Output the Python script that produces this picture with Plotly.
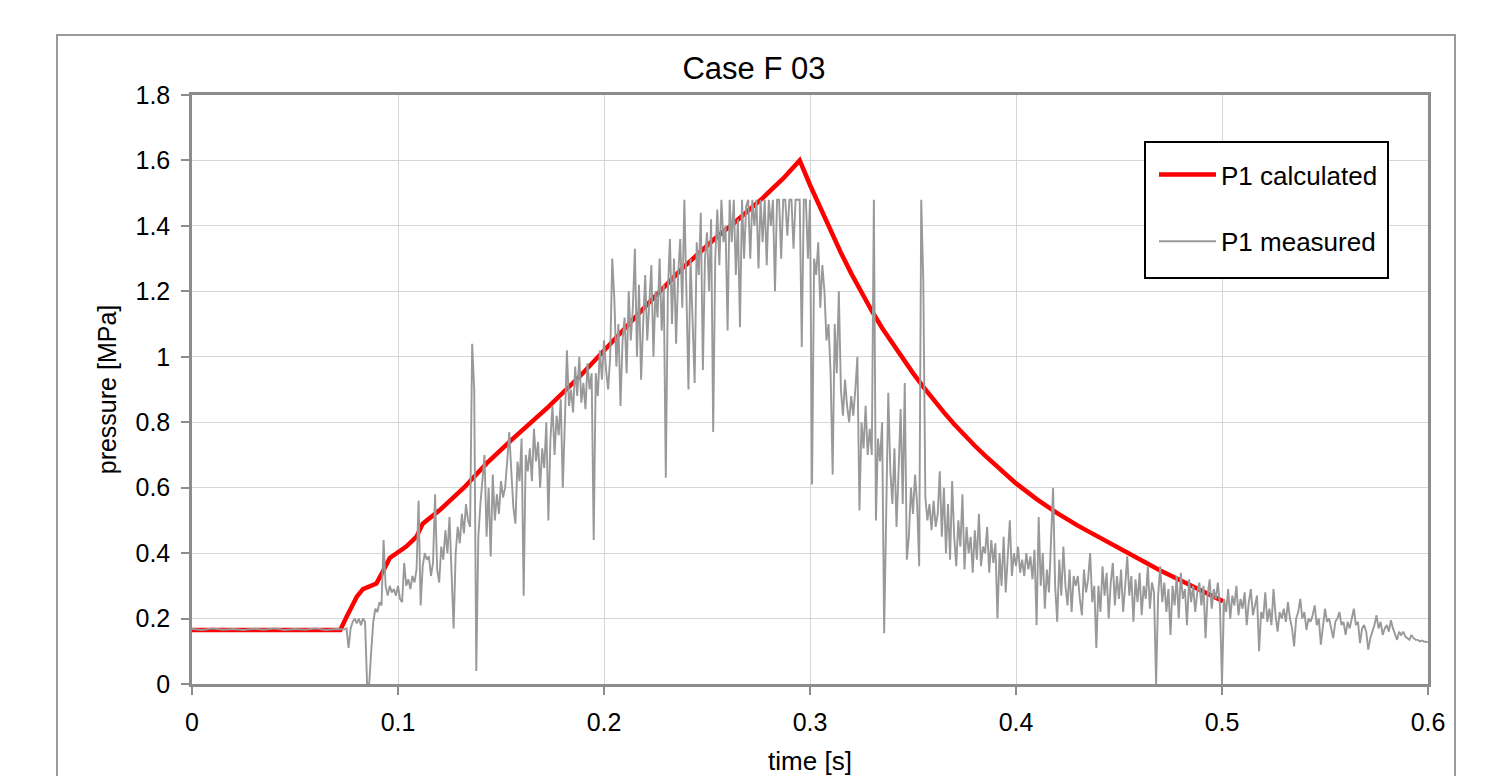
import plotly.graph_objects as go

# ---------------- data ----------------
title_text = "Case F 03"
x_title = "time [s]"
y_title = "pressure [MPa]"
name_calc = "P1 calculated"
name_meas = "P1 measured"

# P1 calculated (time [s], pressure [MPa])
calc_t = [0.000, 0.072, 0.075, 0.080, 0.083, 0.0895, 0.093, 0.096, 0.104, 0.109,
          0.112, 0.120, 0.132, 0.143, 0.155, 0.173, 0.189, 0.205, 0.221, 0.238,
          0.254, 0.263, 0.277, 0.287, 0.295,
          0.300, 0.305, 0.310, 0.315, 0.320, 0.325, 0.330, 0.335, 0.340, 0.345,
          0.350, 0.355, 0.360, 0.365, 0.370, 0.375, 0.380, 0.385, 0.390, 0.395,
          0.400, 0.410, 0.420, 0.430, 0.440, 0.450, 0.460, 0.470, 0.480, 0.490,
          0.5005]
calc_p = [0.165, 0.165, 0.205, 0.267, 0.290, 0.307, 0.348, 0.385, 0.420, 0.450,
          0.490, 0.530, 0.600, 0.674, 0.745, 0.847, 0.945, 1.055, 1.160, 1.270,
          1.362, 1.408, 1.485, 1.545, 1.600,
          1.525, 1.455, 1.385, 1.318, 1.255, 1.195, 1.140, 1.088, 1.040, 0.994,
          0.950, 0.908, 0.868, 0.830, 0.794, 0.760, 0.728, 0.698, 0.669, 0.642,
          0.613, 0.565, 0.522, 0.484, 0.449, 0.415, 0.380, 0.347, 0.316, 0.285,
          0.253]

# P1 measured: quiet part before the pressure rise
meas_flat_t = [0.000, 0.005, 0.010, 0.015, 0.020, 0.025, 0.030, 0.035,
               0.040, 0.045, 0.050, 0.055, 0.060, 0.065, 0.070, 0.074]
meas_flat_p = [0.168, 0.165, 0.170, 0.166, 0.168, 0.165, 0.169, 0.166,
               0.170, 0.165, 0.168, 0.166, 0.170, 0.165, 0.168, 0.167]

# P1 measured: sampled every 1 ms from 0.075 s to 0.600 s
meas_start = 0.075
meas_step = 0.001
meas_p = [
    0.17, 0.11, 0.17, 0.19, 0.20,
    0.185, 0.20, 0.18, 0.20, 0.19, 0.0, 0.0, 0.10, 0.19, 0.23,
    0.22, 0.25, 0.24, 0.44, 0.30, 0.27, 0.30, 0.28, 0.29, 0.27,
    0.30, 0.26, 0.25, 0.37, 0.30, 0.32, 0.29, 0.33, 0.31, 0.35,
    0.56, 0.24, 0.36, 0.40, 0.38, 0.39, 0.33, 0.37, 0.58, 0.35,
    0.31, 0.42, 0.38, 0.47, 0.40, 0.51, 0.36, 0.17, 0.40, 0.48,
    0.43, 0.52, 0.46, 0.55, 0.50, 0.48, 1.04, 0.90, 0.04, 0.45,
    0.55, 0.62, 0.70, 0.45, 0.60, 0.39, 0.64, 0.50, 0.58, 0.52,
    0.62, 0.57, 0.60, 0.68, 0.77, 0.65, 0.54, 0.49, 0.68, 0.62,
    0.75, 0.27, 0.70, 0.65, 0.72, 0.62, 0.78, 0.68, 0.74, 0.60,
    0.72, 0.66, 0.80, 0.50, 0.75, 0.85, 0.70, 0.82, 0.76, 0.87,
    0.60, 0.80, 1.02, 0.85, 0.90, 0.83, 0.97, 0.88, 1.00, 0.86,
    0.92, 0.84, 0.98, 0.90, 0.95, 0.44, 0.95, 0.88, 1.02, 0.93,
    1.05, 0.96, 0.90, 1.00, 1.30, 1.18, 0.97, 1.10, 0.85, 1.05,
    1.12, 0.95, 1.20, 1.05, 1.15, 1.33, 1.00, 1.22, 0.93, 1.10,
    1.25, 1.05, 1.18, 1.28, 1.00, 1.20, 1.12, 1.30, 1.08, 1.22,
    0.63, 1.20, 1.36, 1.10, 1.30, 1.04, 1.25, 1.36, 1.15, 1.48,
    1.20, 0.90, 1.30, 1.10, 0.92, 1.35, 1.25, 1.44, 0.96, 1.30,
    1.38, 1.20, 1.42, 0.77, 1.30, 1.45, 1.28, 1.48, 1.35, 1.40,
    1.08, 1.48, 1.35, 1.48, 1.25, 1.42, 1.09, 1.48, 1.30, 1.46,
    1.48, 1.30, 1.48, 1.40, 1.48, 1.27, 1.48, 1.35, 1.48, 1.28,
    1.48, 1.40, 1.48, 1.20, 1.48, 1.48, 1.30, 1.48, 1.48, 1.37,
    1.48, 1.48, 1.33, 1.48, 1.48, 1.48, 1.03, 1.48, 1.48, 1.30,
    1.48, 0.61, 1.30, 1.25, 1.35, 1.15, 1.28, 1.20, 1.05, 1.10,
    0.95, 0.64, 1.10, 0.95, 1.20, 0.90, 0.82, 0.93, 0.85, 0.80,
    0.88, 0.82, 0.90, 1.00, 0.53, 0.80, 0.72, 0.85, 0.70, 0.78,
    0.70, 1.48, 0.50, 0.75, 0.68, 0.80, 0.155, 0.60, 0.89, 0.65,
    0.55, 0.72, 0.48, 0.65, 0.84, 0.55, 0.92, 0.38, 0.45, 0.60,
    0.52, 0.64, 0.55, 0.36, 1.48, 1.23, 0.57, 0.50, 0.55, 0.47,
    0.56, 0.48, 0.52, 0.65, 0.45, 0.60, 0.40, 0.55, 0.38, 0.62,
    0.45, 0.36, 0.50, 0.42, 0.58, 0.35, 0.48, 0.40, 0.45, 0.34,
    0.47, 0.38, 0.52, 0.36, 0.42, 0.40, 0.48, 0.34, 0.44, 0.37,
    0.43, 0.20, 0.40, 0.30, 0.45, 0.28, 0.38, 0.50, 0.33, 0.40,
    0.36, 0.42, 0.34, 0.38, 0.33, 0.40, 0.35, 0.39, 0.32, 0.41,
    0.18, 0.51, 0.30, 0.40, 0.23, 0.35, 0.28, 0.42, 0.60, 0.30,
    0.19, 0.38, 0.27, 0.42, 0.30, 0.24, 0.35, 0.22, 0.33, 0.30,
    0.33, 0.26, 0.21, 0.35, 0.28, 0.32, 0.40, 0.25, 0.30, 0.11,
    0.30, 0.22, 0.36, 0.27, 0.34, 0.20, 0.31, 0.37, 0.24, 0.33,
    0.26, 0.35, 0.22, 0.30, 0.39, 0.27, 0.33, 0.19, 0.32, 0.25,
    0.34, 0.21, 0.30, 0.26, 0.36, 0.23, 0.31, 0.28, 0.00, 0.27,
    0.36, 0.25, 0.31, 0.22, 0.29, 0.15, 0.30, 0.24, 0.33, 0.20,
    0.34, 0.26, 0.29, 0.18, 0.32, 0.25, 0.30, 0.22, 0.28, 0.31,
    0.24, 0.30, 0.14, 0.27, 0.32, 0.23, 0.29, 0.26, 0.31, 0.24,
    0.00, 0.26, 0.22, 0.29, 0.20, 0.27, 0.24, 0.30, 0.21, 0.26,
    0.23, 0.28, 0.18, 0.25, 0.29, 0.21, 0.24, 0.27, 0.10, 0.22,
    0.20, 0.28, 0.19, 0.23, 0.18, 0.29, 0.21, 0.16, 0.22, 0.20,
    0.23, 0.19, 0.25, 0.20, 0.17, 0.115, 0.20, 0.22, 0.26, 0.20,
    0.22, 0.165, 0.20, 0.19, 0.21, 0.24, 0.18, 0.20, 0.12, 0.17,
    0.23, 0.19, 0.20, 0.17, 0.14, 0.19, 0.20, 0.22, 0.18, 0.19,
    0.15, 0.19, 0.17, 0.20, 0.23, 0.18, 0.19, 0.125, 0.17, 0.18,
    0.16, 0.105, 0.14, 0.16, 0.18, 0.21, 0.17, 0.19, 0.15, 0.17,
    0.18, 0.16, 0.195, 0.17, 0.15, 0.135, 0.16, 0.15, 0.16, 0.145,
    0.14, 0.135, 0.15, 0.14, 0.135, 0.135, 0.13, 0.133, 0.13, 0.128, 0.128,
]

x_range = [0, 0.6]
x_dtick = 0.1
y_range = [0, 1.8]
y_dtick = 0.2

# ---------------- figure ----------------
meas_t = meas_flat_t + [round(meas_start + meas_step * i, 4) for i in range(len(meas_p))]
meas_all = meas_flat_p + meas_p

FONT = "Liberation Sans, Arial, Helvetica, sans-serif"

# plot-area geometry in pixels (used only for placing frame/legend box)
PL, PR, PT, PB = 192, 1428, 95, 684
PW, PH = PR - PL, PB - PT


def px_to_paper(px, py):
    return (px - PL) / PW, (PB - py) / PH


fig = go.Figure()
fig.add_trace(go.Scatter(
    x=calc_t, y=calc_p, mode="lines", name=name_calc,
    line=dict(color="#ff0000", width=4.5), legendgroup="calc",
))
fig.add_trace(go.Scatter(
    x=meas_t, y=meas_all, mode="lines", name=name_meas,
    line=dict(color="#999999", width=1.9), legendgroup="meas",
))

axis_common = dict(
    showgrid=True, gridcolor="#d6d6d6", gridwidth=1,
    showline=True, linecolor="#8c8c8c", linewidth=2.5, mirror=True,
    ticks="outside", ticklen=8, tickcolor="#8c8c8c", tickwidth=2,
    zeroline=False,
    tickfont=dict(family=FONT, size=25, color="#000000"),
)

fig.update_xaxes(range=x_range, dtick=x_dtick, tick0=0,
                 title=dict(text=x_title, font=dict(family=FONT, size=26, color="#000"), standoff=23),
                 ticklabelstandoff=6, **axis_common)
fig.update_yaxes(range=y_range, dtick=y_dtick, tick0=0,
                 title=dict(text=y_title, font=dict(family=FONT, size=25, color="#000"), standoff=12),
                 ticklabelstandoff=6, **axis_common)

# outer chart frame
fx0, fy0 = px_to_paper(57, 35)
fx1, _ = px_to_paper(1455, 35)
fig.add_shape(type="rect", xref="paper", yref="paper",
              x0=fx0, x1=fx1, y0=-0.3, y1=fy0,
              line=dict(color="#9a9a9a", width=2), fillcolor="rgba(0,0,0,0)",
              layer="below")

# legend box
lx0, ly0 = px_to_paper(1145, 142)
lx1, ly1 = px_to_paper(1388, 278)
fig.add_shape(type="rect", xref="paper", yref="paper",
              x0=lx0, x1=lx1, y0=ly1, y1=ly0,
              line=dict(color="#000000", width=2), fillcolor="white",
              layer="above")

legx, legy = px_to_paper(1154, 151)
fig.update_layout(
    width=1494, height=776,
    margin=dict(l=PL, r=1494 - PR, t=PT, b=776 - PB, autoexpand=False),
    paper_bgcolor="white", plot_bgcolor="white",
    title=dict(text=title_text, x=754 / 1494, xanchor="center",
               y=1 - 68 / 776, yanchor="middle",
               font=dict(family=FONT, size=31, color="#000")),
    showlegend=True,
    legend=dict(
        x=legx, y=legy, xanchor="left", yanchor="top",
        bgcolor="rgba(0,0,0,0)", borderwidth=0,
        font=dict(family=FONT, size=26, color="#000"),
        tracegroupgap=30, traceorder="grouped", itemwidth=57,
    ),
)

fig.write_html("out.html")
